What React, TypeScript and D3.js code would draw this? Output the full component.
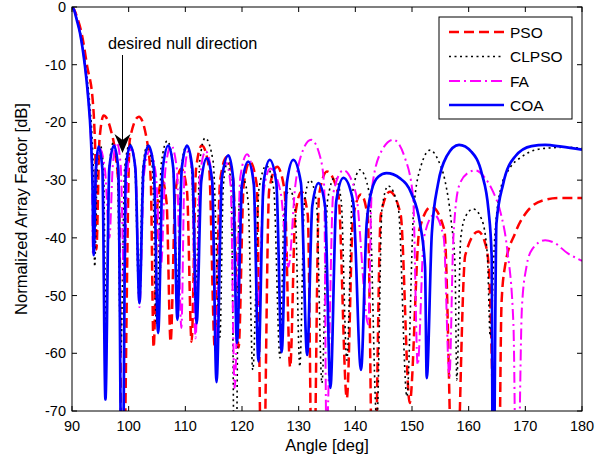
import React from 'react';
import * as d3 from 'd3';

type P = [number, number];

const xTicks = [90, 100, 110, 120, 130, 140, 150, 160, 170, 180];
const yTicks = [0, -10, -20, -30, -40, -50, -60, -70];
const seriesNames = ['PSO', 'CLPSO', 'FA', 'COA'];
const seriesColors = ['#ff0000', '#000000', '#ff00ff', '#0000ff'];
const annotationText = 'desired null direction';
const annotationAngle = 99;

const psoPoints: P[] = [
  [90, 0], [90.4, -0.5], [90.9, -1.8], [91.71, -4.6], [92.7, -10.4], [93.65, -16.1], [93.94, -20.7], [94.15, -27], [94.3, -42],
  [94.85, -23], [95.6, -18.8], [96.9, -21.5], [97.6, -25], [98.3, -33], [98.9, -95],
  [100.2, -23], [101.8, -19], [103.2, -23], [103.9, -30], [104.4, -59],
  [105.1, -34], [105.9, -30], [106.7, -34], [107.4, -58],
  [108.25, -32], [109.3, -28], [110.3, -32], [111.1, -58],
  [111.9, -28], [112.9, -24], [114.2, -28], [115.2, -59],
  [116.15, -30], [117.3, -26], [118.45, -30], [119.4, -59],
  [120.3, -30.8], [121.4, -26.8], [122.6, -30.8], [123.6, -95],
  [124.8, -31.7], [126.2, -27.7], [127.5, -31.7], [128.5, -62.4],
  [129.4, -36], [130.5, -32], [131.6, -36], [132.5, -95],
  [133.6, -32.5], [135.0, -28.5], [137.0, -32.5], [138.5, -67.8],
  [139.6, -36.5], [141.0, -32.5], [142.2, -36.5], [143.2, -95],
  [144.5, -36], [146.1, -32], [148.0, -36], [149.6, -68.6],
  [151.3, -38.6], [153.4, -34.6], [155.7, -38.6], [157.5, -95],
  [159.4, -43], [161.7, -38.9], [162.9, -40.9], [163.5, -44.4], [165.2, -95],
  [165.8, -51.3], [166.4, -45], [168.2, -39.2], [170.5, -35.2], [173.5, -33.4], [176, -33.1], [180, -33.1],
];

const clpsoPoints: P[] = [
  [90, 0], [90.4, -0.55], [90.85, -2.1], [91.5, -4.6], [92.4, -10.4], [93.1, -16.5], [93.5, -22], [93.8, -30], [94.0, -45],
  [94.45, -28], [95.0, -24], [95.55, -28], [96.0, -55],
  [96.6, -27.5], [97.3, -23.5], [98.0, -27.5], [98.6, -60],
  [99.3, -27.8], [100.2, -23.8], [101.1, -27.8], [101.8, -50],
  [102.5, -28], [103.3, -24], [104.2, -28], [104.9, -55],
  [105.75, -27.2], [106.8, -23.2], [107.8, -27.2], [108.6, -48],
  [109.3, -28], [110.2, -24], [111.1, -28], [111.8, -52],
  [112.55, -26.7], [113.5, -22.7], [114.9, -26.7], [116.1, -57.2],
  [116.7, -31], [117.4, -27], [118.1, -31], [118.8, -95],
  [119.5, -34], [120.3, -30], [121.1, -34], [121.9, -62.9],
  [123.0, -31.5], [124.3, -27.5], [125.6, -31.5], [126.7, -60.8],
  [127.45, -35.5], [128.4, -31.5], [129.4, -35.5], [130.2, -62.3],
  [131.0, -34], [132.0, -30], [133.15, -34], [134.1, -65.2],
  [135.1, -33.5], [136.4, -29.5], [137.5, -33.5], [138.5, -61.2],
  [139.5, -32.2], [140.8, -28.2], [142.45, -32.2], [143.8, -72],
  [144.7, -35], [145.8, -31], [147.6, -35], [149.1, -67.5],
  [150.3, -35], [151.6, -27.5], [153.2, -24.8], [154.6, -26.5], [155.8, -30], [156.9, -37], [157.6, -45], [157.9, -64.6],
  [158.6, -40], [159.5, -36.2], [160.8, -35], [162.3, -36.8], [163.3, -43], [163.8, -57],
  [164.6, -40], [165.6, -31.7], [167.4, -27.7], [169.3, -26], [171.6, -24.8], [174.6, -24.4], [177, -24.3], [180, -24.5],
];

const faPoints: P[] = [
  [90, 0], [90.4, -0.55], [90.83, -2.1], [91.41, -4.4], [92.29, -10.2], [92.88, -16], [93.3, -22], [93.55, -30], [93.7, -43],
  [94.25, -28.5], [94.9, -24.5], [95.85, -28.5], [96.6, -40],
  [97.2, -27.5], [97.9, -23.5], [98.6, -27.5], [99.2, -48],
  [99.8, -28.5], [100.5, -24.5], [101.25, -28.5], [101.9, -52],
  [102.7, -29], [103.7, -25], [104.8, -29], [105.7, -45],
  [106.5, -28], [107.5, -24], [108.5, -28], [109.3, -55.6],
  [109.85, -29], [110.5, -25], [111.2, -29], [111.8, -57.4],
  [112.6, -29], [113.6, -25], [114.65, -29], [115.5, -58],
  [116.25, -31], [117.2, -27], [118.0, -31], [118.7, -66],
  [119.7, -29.5], [120.9, -25.5], [122.0, -29.5], [122.8, -52],
  [123.8, -32], [125.0, -28], [126.8, -32], [128.2, -45],
  [129.4, -31], [130.5, -25.5], [132.2, -23], [133.8, -26], [134.5, -31], [134.9, -75],
  [136.1, -32.3], [137.9, -28.3], [140.1, -32.3], [142.3, -55],
  [142.9, -31.7], [144.6, -25], [146.7, -23], [148.7, -26], [150.2, -33], [151.0, -62],
  [152.1, -40], [153.9, -36], [155.6, -40], [156.6, -64],
  [157.3, -40], [158.3, -31], [159.8, -28.8], [161.2, -28.3], [162.8, -29.5], [164.3, -32], [165.6, -35.5], [166.8, -42], [167.9, -55], [168.5, -95],
  [169.4, -52], [170.2, -45], [171.2, -42], [173.5, -40.4], [175.2, -40.9], [177.5, -42.7], [179, -43.5], [180, -44],
];

const coaPoints: P[] = [
  [90, 0], [90.4, -0.6], [90.83, -2.2], [91.41, -4.5], [92.29, -10.3], [92.88, -16], [93.3, -21.9], [93.6, -30], [93.83, -43],
  [94.22, -28], [94.7, -24.2], [95.36, -28], [95.9, -68],
  [96.58, -28], [97.4, -24], [98.17, -28], [98.85, -95],
  [99.5, -28], [100.3, -24], [101.18, -28], [101.9, -51.3],
  [102.62, -28], [103.5, -24], [104.44, -28], [105.2, -56.5],
  [106.01, -28], [107.0, -24], [107.88, -28], [108.6, -54.2],
  [109.37, -28], [110.3, -24], [111.24, -28], [112.0, -54.8],
  [112.81, -30.2], [113.8, -26.2], [114.74, -30.2], [115.5, -65],
  [116.45, -29.7], [117.6, -25.7], [118.43, -29.7], [119.1, -58.2],
  [120.0, -30.8], [121.1, -26.8], [122.09, -30.8], [122.9, -61.4],
  [123.8, -30.5], [124.9, -26.5], [126.06, -30.5], [127.0, -59.8],
  [127.92, -30.5], [129.05, -26.5], [130.4, -30.5], [131.5, -60.3],
  [132.4, -34.5], [133.5, -30.5], [134.66, -34.5], [135.6, -66],
  [136.64, -33.6], [137.9, -29.6], [139.6, -33.6], [141.0, -62.9],
  [142.0, -37.5], [142.9, -31.7], [144.05, -29.4], [145.5, -28.8], [147.9, -29.7], [149.9, -32.3], [151.4, -37.5], [152.3, -45], [152.6, -64.3],
  [153.5, -39.2], [154.6, -30.6], [156.1, -25.9], [158.3, -23.9], [160.5, -25.1], [162.3, -28.8], [163.5, -35.2], [164.06, -43.3], [164.3, -95],
  [164.9, -37.5], [166.1, -30.6], [168.2, -25.9], [171.1, -24.1], [173.5, -23.9], [176.4, -24.2], [180, -24.7],
];

const seriesData: P[][] = [psoPoints, clpsoPoints, faPoints, coaPoints];
const seriesDash = ['10,5', '2,3.5', '11,4,2,4', null];
const seriesWidth = [2.5, 1.6, 2, 2.7];

const W = 607;
const H = 459;
const L = 72, R = 582, T = 7, B = 411;
const FONT = '"Liberation Sans", Arial, Helvetica, sans-serif';

export default function App() {
  const x = d3.scaleLinear().domain([90, 180]).range([L, R]);
  const y = d3.scaleLinear().domain([-70, 0]).range([B, T]);
  const line = d3
    .line<P>()
    .x((d) => x(d[0]))
    .y((d) => y(d[1]))
    .curve(d3.curveMonotoneX);

  const legX = 439, legY = 17, legW = 133, legH = 102;
  const legRowY = [32, 56.5, 81, 105];

  const ax = x(annotationAngle) - 0.5;

  return (
    <svg
      width={W}
      height={H}
      style={{ position: 'absolute', left: 0, top: 0, background: '#fff' }}
      fontFamily={FONT}
    >
      <defs>
        <clipPath id="plotclip">
          <rect x={L} y={T} width={R - L} height={B - T} />
        </clipPath>
      </defs>
      <rect x={0} y={0} width={W} height={H} fill="#fff" />
      <rect x={L} y={T} width={R - L} height={B - T} fill="#fff" />

      <g clipPath="url(#plotclip)">
        {seriesData.map((d, i) => (
          <path
            key={seriesNames[i]}
            d={line(d) || ''}
            fill="none"
            stroke={seriesColors[i]}
            strokeWidth={seriesWidth[i]}
            strokeDasharray={seriesDash[i] || undefined}
            strokeLinejoin="round"
          />
        ))}
      </g>

      {/* axes box */}
      <rect x={L} y={T} width={R - L} height={B - T} fill="none" stroke="#000" strokeWidth={1} />
      {xTicks.map((t) => (
        <g key={'x' + t}>
          <line x1={x(t)} x2={x(t)} y1={B} y2={B - 5} stroke="#000" />
          <line x1={x(t)} x2={x(t)} y1={T} y2={T + 5} stroke="#000" />
          <text x={x(t)} y={431} textAnchor="middle" fontSize={14.5} fill="#000">
            {t}
          </text>
        </g>
      ))}
      {yTicks.map((t) => (
        <g key={'y' + t}>
          <line x1={L} x2={L + 5} y1={y(t)} y2={y(t)} stroke="#000" />
          <line x1={R} x2={R - 5} y1={y(t)} y2={y(t)} stroke="#000" />
          <text x={L - 6} y={y(t) + 5} textAnchor="end" fontSize={14.5} fill="#000">
            {t}
          </text>
        </g>
      ))}
      <text x={(L + R) / 2} y={451} textAnchor="middle" fontSize={16.5} fill="#000">
        Angle [deg]
      </text>
      <text
        transform={`translate(27,${(T + B) / 2}) rotate(-90)`}
        textAnchor="middle"
        fontSize={16.5}
        fill="#000"
      >
        Normalized Array Factor [dB]
      </text>

      {/* annotation */}
      <text x={108} y={49} fontSize={16.3} fill="#000">
        {annotationText}
      </text>
      <line x1={ax} x2={ax} y1={55} y2={140} stroke="#000" strokeWidth={1} />
      <polygon
        points={`${ax},153 ${ax - 8},134 ${ax},140 ${ax + 8},134`}
        fill="#000"
      />

      {/* legend */}
      <rect x={legX} y={legY} width={legW} height={legH} fill="#fff" stroke="#000" strokeWidth={1} />
      {seriesNames.map((n, i) => (
        <g key={'leg' + n}>
          <line
            x1={449}
            x2={504}
            y1={legRowY[i]}
            y2={legRowY[i]}
            stroke={seriesColors[i]}
            strokeWidth={seriesWidth[i]}
            strokeDasharray={seriesDash[i] || undefined}
          />
          <text x={510} y={legRowY[i] + 5.5} fontSize={15.5} fill="#000">
            {n}
          </text>
        </g>
      ))}
    </svg>
  );
}
